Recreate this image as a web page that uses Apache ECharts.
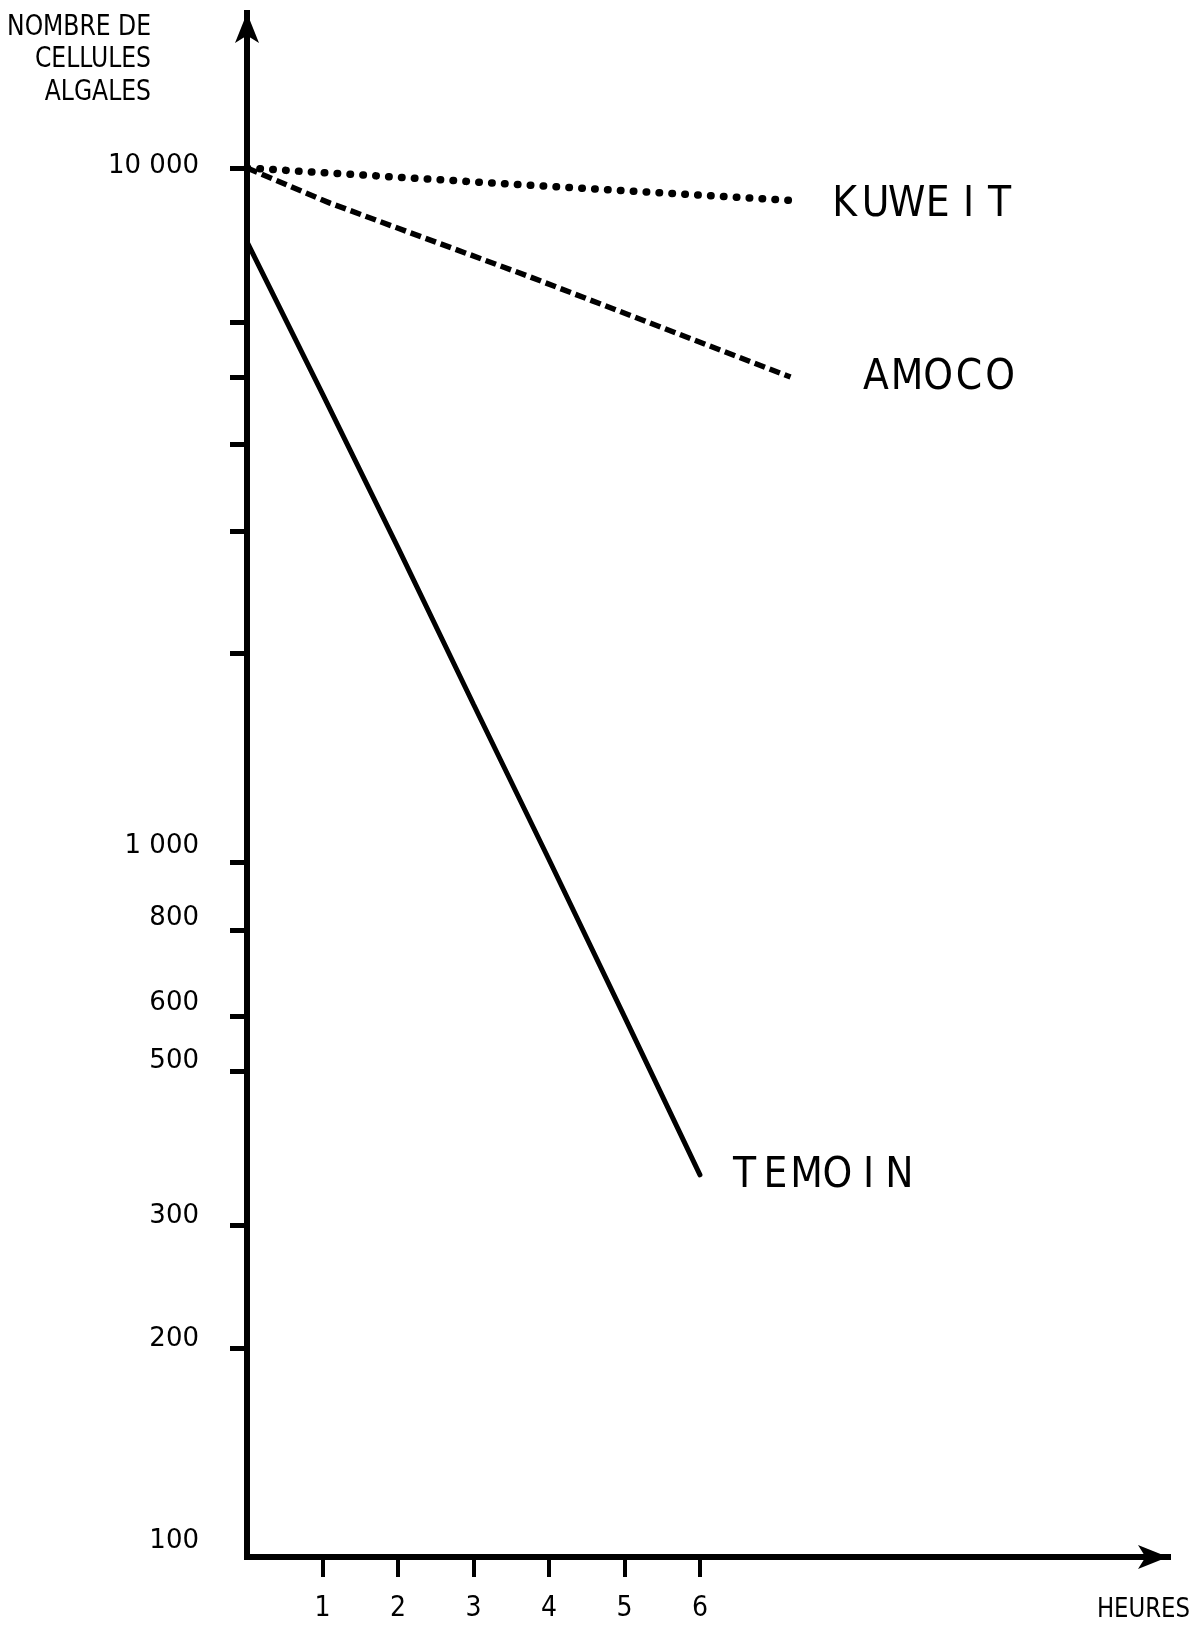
<!DOCTYPE html>
<html>
<head>
<meta charset="utf-8">
<script src="https://cdn.jsdelivr.net/npm/echarts@6/dist/echarts.min.js"></script>
<style>
  html, body { margin: 0; padding: 0; background: #ffffff; }
  #chart { width: 1203px; height: 1630px; }
</style>
</head>
<body>
<div id="chart"></div>
<script>
// Algal cell counts versus time (hours), log scale
const hoursTemoin = [0, 1, 2, 3, 4, 5, 6];
const cellsTemoin = [7830, 4730, 2840, 1690, 1010, 600, 355];

const hoursAmoco = [0, 1.1, 3.75, 7.2];
const cellsAmoco = [10000, 8900, 6970, 5000];

const hoursKuweit = [0, 3.7, 7.3];
const cellsKuweit = [10000, 9450, 8970];

const yTickValues = [10000, 6000, 5000, 4000, 3000, 2000, 1000, 800, 600, 500, 300, 200];
const yLabelValues = [10000, 1000, 800, 600, 500, 300, 200, 100];
const xTickValues = [1, 2, 3, 4, 5, 6];

const yTitle = 'NOMBRE DE\nCELLULES\nALGALES';
const xTitle = 'HEURES';

const NARROW = "'Liberation Sans Narrow', 'DejaVu Sans Condensed', 'Arial Narrow', sans-serif";
const INK = '#000000';

// how far each y label is lifted above its tick (px)
const yLabelRaise = { 10000: 2, 1000: 16, 800: 12, 600: 13, 500: 10, 300: 9, 200: 9, 100: 16 };

function pairs(xs, ys) {
  return xs.map((x, i) => [x, ys[i]]);
}

function thousands(v) {
  return String(v).replace(/\B(?=(\d{3})+(?!\d))/g, ' ');
}

// rich styles that lift a y label by padding its bottom
const yLabelRich = {};
Object.keys(yLabelRaise).forEach(k => {
  yLabelRich['r' + k] = {
    padding: [0, 0, yLabelRaise[k] * 2, 0],
    fontSize: 26,
    fontFamily: "'DejaVu Sans', sans-serif",
    color: INK
  };
});

// name spread out letter by letter in fixed-width cells
function spaced(name) {
  return name.split('').map(ch => '{c|' + ch + '}').join('');
}

// lift > 0 raises the label above the line end, lift < 0 lowers it
function endLabel(name, distance, lift) {
  const pad = lift >= 0 ? [0, 0, lift * 2, 0] : [-lift * 2, 0, 0, 0];
  return {
    show: true,
    distance: distance,
    formatter: () => spaced(name),
    padding: pad,
    rich: {
      c: {
        width: 31,
        align: 'center',
        fontSize: 42,
        fontFamily: NARROW,
        color: INK
      }
    }
  };
}

const chart = echarts.init(document.getElementById('chart'), null, { renderer: 'canvas' });

chart.setOption({
  animation: false,
  backgroundColor: '#ffffff',
  grid: {
    left: 247,
    right: 35,
    top: 13,
    bottom: 73,
    containLabel: false,
    outerBoundsMode: 'none'
  },
  xAxis: {
    type: 'value',
    min: 0,
    max: 12.2,
    axisLine: {
      show: true,
      onZero: false,
      symbol: ['none', 'arrow'],
      symbolSize: [18, 30],
      lineStyle: { color: INK, width: 6, cap: 'square' }
    },
    axisTick: {
      show: true,
      customValues: xTickValues,
      length: 20,
      lineStyle: { color: INK, width: 4 }
    },
    axisLabel: {
      show: true,
      customValues: xTickValues,
      margin: 38,
      fontSize: 28,
      fontFamily: NARROW,
      color: INK
    },
    splitLine: { show: false }
  },
  yAxis: {
    type: 'log',
    logBase: 10,
    min: 100,
    max: 16717,
    axisLine: {
      show: true,
      symbol: ['none', 'arrow'],
      symbolSize: [18, 30],
      lineStyle: { color: INK, width: 6, cap: 'square' }
    },
    axisTick: {
      show: true,
      customValues: yTickValues,
      length: 17,
      lineStyle: { color: INK, width: 5 }
    },
    minorTick: { show: false },
    axisLabel: {
      show: true,
      customValues: yLabelValues,
      margin: 48,
      fontSize: 26,
      fontFamily: "'DejaVu Sans', sans-serif",
      color: INK,
      verticalAlign: 'middle',
      formatter: v => {
        const n = Math.round(v);
        return '{r' + n + '|' + thousands(n) + '}';
      },
      rich: yLabelRich
    },
    splitLine: { show: false },
    minorSplitLine: { show: false }
  },
  graphic: [
    {
      type: 'text',
      x: 151,
      y: 11,
      scaleX: 0.9,
      style: {
        text: yTitle,
        align: 'right',
        verticalAlign: 'top',
        fontSize: 29,
        lineHeight: 32.5,
        fontFamily: NARROW,
        fill: INK
      }
    },
    {
      type: 'text',
      x: 1190,
      y: 1610,
      scaleX: 0.94,
      style: {
        text: xTitle,
        align: 'right',
        verticalAlign: 'middle',
        fontSize: 27,
        fontFamily: NARROW,
        fill: INK
      }
    }
  ],
  series: [
    {
      name: 'KUWEIT',
      type: 'line',
      symbol: 'none',
      data: pairs(hoursKuweit, cellsKuweit),
      lineStyle: { color: INK, width: 7.5, type: [0.5, 12.4], cap: 'round' },
      endLabel: endLabel('KUWEIT', 31, -4)
    },
    {
      name: 'AMOCO',
      type: 'line',
      symbol: 'none',
      data: pairs(hoursAmoco, cellsAmoco),
      lineStyle: { color: INK, width: 5.5, type: [11, 5], cap: 'butt' },
      endLabel: endLabel('AMOCO', 70, -1)
    },
    {
      name: 'TEMOIN',
      type: 'line',
      symbol: 'none',
      data: pairs(hoursTemoin, cellsTemoin),
      lineStyle: { color: INK, width: 5, type: 'solid', cap: 'round' },
      endLabel: endLabel('TEMOIN', 29, -1)
    }
  ]
});
</script>
</body>
</html>
